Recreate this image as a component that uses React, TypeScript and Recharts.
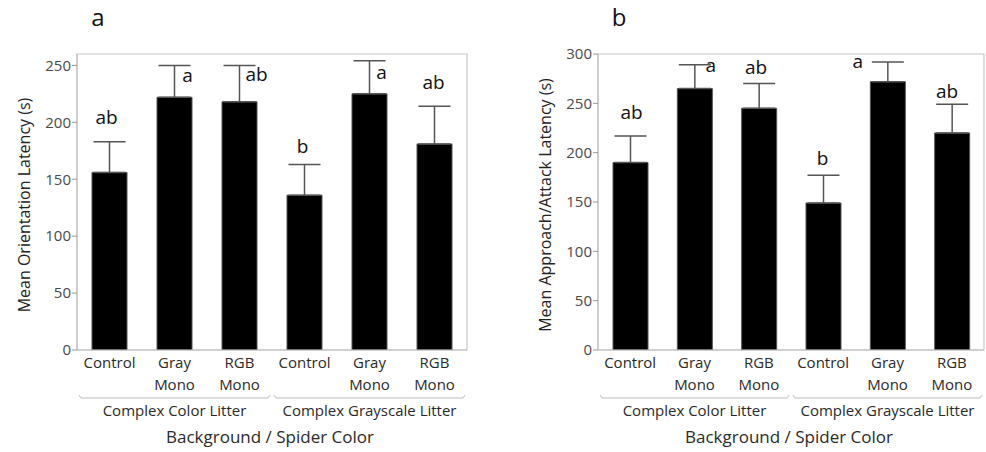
import { Bar, BarChart, ErrorBar, LabelList, ReferenceArea, XAxis, YAxis } from "recharts";

const categories = ["Control", "Gray Mono", "RGB Mono", "Control", "Gray Mono", "RGB Mono"];
const groups = ["Complex Color Litter", "Complex Grayscale Litter"];

const orientMean = [156, 222, 218, 136, 225, 181];
const orientErr = [27, 28, 32, 27, 29, 33];
const orientLetters = ["ab", "a", "ab", "b", "a", "ab"];
const orientTicks = [0, 50, 100, 150, 200, 250];

const attackMean = [190, 265, 245, 149, 272, 220];
const attackErr = [27, 24, 25, 28, 20, 29];
const attackLetters = ["ab", "a", "ab", "b", "a", "ab"];
const attackTicks = [0, 50, 100, 150, 200, 250, 300];

const FONT = "'Open Sans', 'Noto Sans', sans-serif";
const PANEL_W = 493;
const PANEL_H = 452;
const PLOT_TOP = 54;
const PLOT_BOTTOM = 350;
const Y_AXIS_W = 40;
const X_AXIS_H = 40;

function CategoryTick(props: any) {
  const { x, y, payload } = props;
  const lines = String(payload.value).split(" ");
  return (
    <text x={x} y={y} textAnchor="middle" fill="#2a2a2a" fontSize={15}>
      {lines.map((l, i) => (
        <tspan key={i} x={x} dy={i === 0 ? 18 : 22}>
          {l}
        </tspan>
      ))}
    </text>
  );
}

function makeLetter(letters: string[], err: number[], shift: number[][]) {
  return (props: any) => {
    const vb = props.viewBox ?? props;
    const i = props.index ?? 0;
    const { x, y, width, height } = vb;
    const px = height / Number(props.value);
    const top = y - err[i] * px;
    return (
      <text
        x={x + width / 2 + shift[i][0]}
        y={top + shift[i][1]}
        textAnchor="middle"
        fontSize={19}
        fill="#111"
      >
        {letters[i]}
      </text>
    );
  };
}

type PanelProps = {
  left: number;
  plotLeft: number;
  plotRight: number;
  tag: string;
  yLabel: string;
  means: number[];
  errs: number[];
  letters: string[];
  ticks: number[];
  yMax: number;
  shift: number[][];
};

function Panel(p: PanelProps) {
  const data = categories.map((c, i) => ({
    cat: c,
    mean: p.means[i],
    errRange: [0, p.errs[i]],
  }));
  const mid = (p.plotLeft + p.plotRight) / 2;
  const band = (p.plotRight - p.plotLeft) / categories.length;
  const groupSpans = groups.map((g, gi) => [p.plotLeft + gi * 3 * band, p.plotLeft + (gi + 1) * 3 * band]);
  return (
    <div style={{ position: "absolute", left: p.left, top: 0, width: PANEL_W, height: PANEL_H }}>
      <BarChart
        width={PANEL_W}
        height={PANEL_H}
        data={data}
        margin={{
          top: PLOT_TOP,
          left: p.plotLeft - Y_AXIS_W,
          right: PANEL_W - p.plotRight,
          bottom: PANEL_H - PLOT_BOTTOM - X_AXIS_H,
        }}
      >
        <ReferenceArea y1={0} y2={p.yMax} fill="none" stroke="#c8c8c8" strokeWidth={1.2} ifOverflow="visible" />
        <XAxis
          dataKey="cat"
          height={X_AXIS_H}
          tick={<CategoryTick />}
          tickLine={false}
          tickSize={0}
          tickMargin={0}
          axisLine={{ stroke: "#bdbdbd" }}
          interval={0}
        />
        <YAxis
          width={Y_AXIS_W}
          domain={[0, p.yMax]}
          ticks={p.ticks}
          allowDataOverflow
          tickSize={5}
          tickMargin={1}
          tick={{ fill: "#4a4a4a", fontSize: 15 }}
          tickLine={{ stroke: "#999" }}
          axisLine={{ stroke: "#bdbdbd" }}
        />
        <Bar dataKey="mean" fill="#000" stroke="#555" strokeWidth={1} barSize={35} isAnimationActive={false}>
          <ErrorBar dataKey="errRange" width={16} stroke="#555" strokeWidth={1.5} isAnimationActive={false} />
          <LabelList dataKey="mean" content={makeLetter(p.letters, p.errs, p.shift)} />
        </Bar>
      </BarChart>
      <svg
        width={PANEL_W}
        height={PANEL_H}
        style={{ position: "absolute", left: 0, top: 0, pointerEvents: "none" }}
      >
        <text x={p.plotLeft + 21} y={26} fontSize={24} fill="#111" textAnchor="middle">
          {p.tag}
        </text>
        <text
          transform={`translate(${p.plotLeft - 47}, ${(PLOT_TOP + PLOT_BOTTOM) / 2 + 3}) rotate(-90)`}
          textAnchor="middle"
          fontSize={16}
          fill="#222"
        >
          {p.yLabel}
        </text>
        {groups.map((g, gi) => {
          const [a, b] = groupSpans[gi];
          return (
            <g key={g}>
              <path
                d={`M${a + 2},395 L${a + 4},398 L${b - 4},398 L${b - 2},395`}
                fill="none"
                stroke="#bdbdbd"
                strokeWidth={1}
              />
              <text x={(a + b) / 2} y={416} textAnchor="middle" fontSize={15} fill="#2a2a2a">
                {g}
              </text>
            </g>
          );
        })}
        <text x={mid - 2} y={443} textAnchor="middle" fontSize={17} fill="#2a2a2a">
          Background / Spider Color
        </text>
      </svg>
    </div>
  );
}

export default function App() {
  return (
    <div
      style={{
        position: "absolute",
        left: 0,
        top: 0,
        width: 986,
        height: 452,
        background: "#fff",
        fontFamily: FONT,
      }}
    >
      <Panel
        left={0}
        plotLeft={77}
        plotRight={467}
        tag="a"
        yLabel="Mean Orientation Latency (s)"
        means={orientMean}
        errs={orientErr}
        letters={orientLetters}
        ticks={orientTicks}
        yMax={260}
        shift={[
          [-3, -18],
          [13, 17],
          [17, 16],
          [-2, -11],
          [12, 18],
          [-1, -17],
        ]}
      />
      <Panel
        left={493}
        plotLeft={105}
        plotRight={491}
        tag="b"
        yLabel="Mean Approach/Attack Latency (s)"
        means={attackMean}
        errs={attackErr}
        letters={attackLetters}
        ticks={attackTicks}
        yMax={300}
        shift={[
          [1, -17],
          [16, 7],
          [-3, -10],
          [-1, -10],
          [-30, 6],
          [-5, -6],
        ]}
      />
    </div>
  );
}
